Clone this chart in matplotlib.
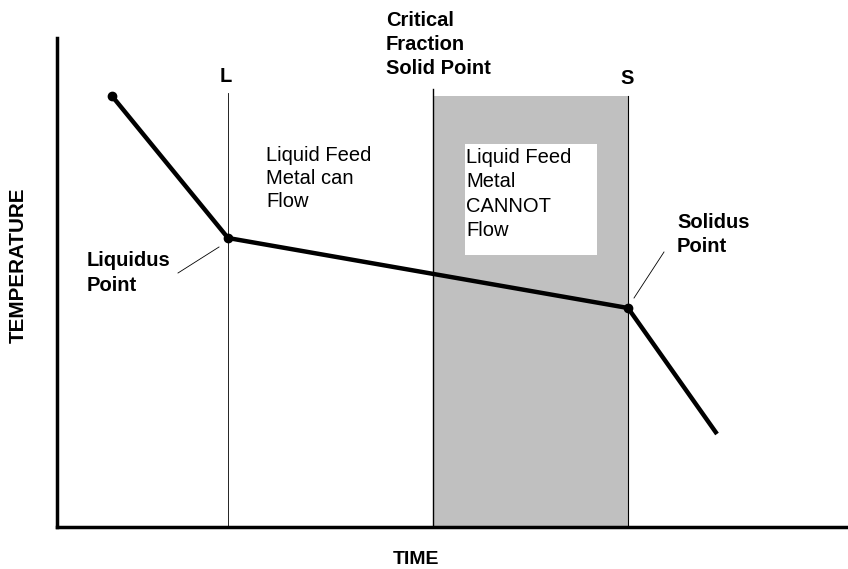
import matplotlib
matplotlib.use("Agg")
import matplotlib.pyplot as plt
from matplotlib.patches import Rectangle

plt.rcParams['font.family'] = ['Liberation Sans', 'DejaVu Sans']

# cooling curve (time, temperature) in arbitrary units
curve_time = [55, 171, 571, 660]
curve_temp = [431, 289, 219, 93]
dot_idx = [0, 1, 2]

# key times
t_liquidus = 171
t_critical = 376
t_solidus = 571
band_top = 431
l_top = 434
crit_top = 438
s_top = 431

fig = plt.figure(figsize=(8.48, 5.69), dpi=100)
ax = fig.add_axes([57/848, 42/569, 791/848, 489/569])
ax.set_xlim(0, 791)
ax.set_ylim(0, 489)

# shaded "cannot flow" band
ax.add_patch(Rectangle((t_critical, 0), t_solidus - t_critical, band_top,
                       facecolor='#c0c0c0', edgecolor='none', zorder=0))
ax.add_patch(Rectangle((408, 272), 132, 111, facecolor='white',
                       edgecolor='none', zorder=1))

ax.plot([t_liquidus, t_liquidus], [0, l_top], color='black', lw=0.6, zorder=2)
ax.plot([t_critical, t_critical], [0, crit_top], color='black', lw=1.0, zorder=2)
ax.plot([t_solidus, t_solidus], [0, s_top], color='black', lw=0.8, zorder=2)

ax.plot(curve_time, curve_temp, color='black', lw=3.2, solid_capstyle='butt', zorder=3)
ax.plot([curve_time[i] for i in dot_idx], [curve_temp[i] for i in dot_idx],
        'o', color='black', ms=6, zorder=4)

# leader lines
ax.plot([121, 162], [254, 280], color='black', lw=0.6)
ax.plot([577, 607], [229, 275], color='black', lw=0.6)

fs = 14.5
ax.text(t_liquidus - 2, 450, 'L', ha='center', va='center', fontsize=fs, fontweight='bold')
ax.text(t_solidus - 1, 449, 'S', ha='center', va='center', fontsize=fs, fontweight='bold')
ax.text(329, 516, 'Critical\nFraction\nSolid Point', ha='left', va='top',
        fontsize=fs, fontweight='bold', linespacing=1.32, clip_on=False)
ax.text(209, 381, 'Liquid Feed\nMetal can\nFlow', ha='left', va='top',
        fontsize=fs, linespacing=1.26)
ax.text(409, 379, 'Liquid Feed\nMetal\nCANNOT\nFlow', ha='left', va='top',
        fontsize=fs, linespacing=1.36, zorder=5)
ax.text(30, 276, 'Liquidus\nPoint', ha='left', va='top', fontsize=fs,
        fontweight='bold', linespacing=1.4)
ax.text(620, 314, 'Solidus\nPoint', ha='left', va='top', fontsize=fs,
        fontweight='bold', linespacing=1.3)

fig.text(18/848, 1 - 265/569, 'TEMPERATURE', rotation=90, ha='center', va='center',
         fontsize=14.9, fontweight='bold')
fig.text(416/848, 1 - 559/569, 'TIME', ha='center', va='center',
         fontsize=14, fontweight='bold')

ax.set_xticks([])
ax.set_yticks([])
ax.spines['top'].set_visible(False)
ax.spines['right'].set_visible(False)
ax.spines['left'].set_linewidth(2.5)
ax.spines['bottom'].set_linewidth(2.5)

fig.savefig('out.png', dpi=100)
